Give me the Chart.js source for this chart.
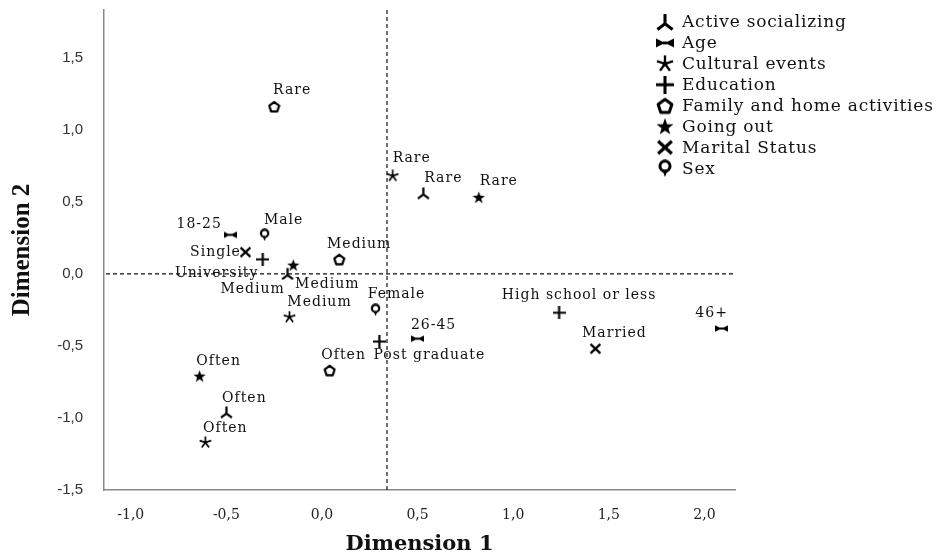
<!DOCTYPE html>
<html>
<head>
<meta charset="utf-8">
<script src="https://cdn.jsdelivr.net/npm/chart.js@4.4.1/dist/chart.umd.min.js"></script>
<style>
  html, body { margin: 0; padding: 0; background: #fff; }
  #wrap { width: 940px; height: 557px; }
</style>
</head>
<body>
<div id="wrap"><canvas id="chart" width="940" height="557"></canvas></div>
<script>
// legend order
const seriesNames = ['Active socializing', 'Age', 'Cultural events', 'Education',
  'Family and home activities', 'Going out', 'Marital Status', 'Sex'];

// category labels
const activeCats = ['Rare', 'Medium', 'Often'];
const ageCats = ['18-25', '26-45', '46+'];
const culturalCats = ['Rare', 'Medium', 'Often'];
const educationCats = ['University', 'Post graduate', 'High school or less'];
const familyCats = ['Rare', 'Medium', 'Often'];
const goingCats = ['Rare', 'Medium', 'Often'];
const maritalCats = ['Single', 'Married'];
const sexCats = ['Male', 'Female'];

// Dimension 1 / Dimension 2 values
const activeDim1 = [0.53, -0.18, -0.50];
const activeDim2 = [0.56, 0.00, -0.96];
const ageDim1 = [-0.48, 0.50, 2.09];
const ageDim2 = [0.27, -0.45, -0.38];
const culturalDim1 = [0.37, -0.17, -0.61];
const culturalDim2 = [0.68, -0.30, -1.17];
const educationDim1 = [-0.31, 0.30, 1.24];
const educationDim2 = [0.10, -0.47, -0.27];
const familyDim1 = [-0.25, 0.09, 0.04];
const familyDim2 = [1.16, 0.10, -0.67];
const goingDim1 = [0.82, -0.15, -0.64];
const goingDim2 = [0.53, 0.06, -0.71];
const maritalDim1 = [-0.40, 1.43];
const maritalDim2 = [0.15, -0.52];
const sexDim1 = [-0.30, 0.28];
const sexDim2 = [0.27, -0.25];

// tick labels
const xTicks = [-1.0, -0.5, 0.0, 0.5, 1.0, 1.5, 2.0];
const yTicks = [-1.5, -1.0, -0.5, 0.0, 0.5, 1.0, 1.5];

// dashed reference lines
const refX = 0.34;
const refY = 0.0;

// where each point label sits relative to its marker (px)
const activeShift = [[20, -15], [-35, 16], [18, -14]];
const ageShift = [[-31, -11], [16, -13], [-10, -15]];
const culturalShift = [[19, -17], [30, -15], [20, -14]];
const educationShift = [[-46, 14], [50, 14], [20, -17]];
const familyShift = [[18, -16], [20, -15], [14, -15]];
const goingShift = [[20, -16], [34, 19], [19, -15]];
const maritalShift = [[-30, 0], [19, -15]];
const sexShift = [[19, -15], [21, -15]];

function symbol(type, s) {
  const c = document.createElement('canvas');
  c.width = s; c.height = s;
  const g = c.getContext('2d');
  g.fillStyle = '#000';
  g.strokeStyle = '#000';
  g.lineCap = 'butt';
  g.lineJoin = 'miter';
  const m = s / 2;
  if (type === 'tripod') {
    g.lineWidth = s * 0.17;
    g.beginPath();
    g.moveTo(m, s * 0.05); g.lineTo(m, s * 0.6);
    g.moveTo(m, s * 0.6); g.lineTo(s * 0.08, s * 0.92);
    g.moveTo(m, s * 0.6); g.lineTo(s * 0.92, s * 0.92);
    g.stroke();
  } else if (type === 'bowtie') {
    g.beginPath();
    g.moveTo(0, s * 0.25); g.lineTo(m, m); g.lineTo(0, s * 0.75); g.closePath();
    g.moveTo(s, s * 0.25); g.lineTo(m, m); g.lineTo(s, s * 0.75); g.closePath();
    g.fill();
    g.fillRect(m - s * 0.12, m - s * 0.08, s * 0.24, s * 0.16);
  } else if (type === 'asterisk') {
    g.lineWidth = s * 0.13;
    g.beginPath();
    for (let k = 0; k < 5; k++) {
      const a = -Math.PI / 2 + k * 2 * Math.PI / 5;
      g.moveTo(m, m);
      g.lineTo(m + Math.cos(a) * s * 0.47, m + Math.sin(a) * s * 0.47);
    }
    g.stroke();
    g.beginPath(); g.arc(m, m, s * 0.14, 0, Math.PI * 2); g.fill();
  } else if (type === 'star') {
    g.beginPath();
    for (let k = 0; k < 10; k++) {
      const a = -Math.PI / 2 + k * Math.PI / 5;
      const r = k % 2 === 0 ? s * 0.5 : s * 0.2;
      const px = m + Math.cos(a) * r, py = m + 0.03 * s + Math.sin(a) * r;
      if (k === 0) g.moveTo(px, py); else g.lineTo(px, py);
    }
    g.closePath(); g.fill();
  } else if (type === 'plus') {
    g.lineWidth = s * 0.17;
    g.beginPath();
    g.moveTo(0, m); g.lineTo(s, m);
    g.moveTo(m, 0); g.lineTo(m, s);
    g.stroke();
  } else if (type === 'pentagon') {
    g.lineWidth = s * 0.17;
    g.lineJoin = 'round';
    g.beginPath();
    for (let k = 0; k < 5; k++) {
      const a = -Math.PI / 2 + k * 2 * Math.PI / 5;
      const px = m + Math.cos(a) * s * 0.4, py = m + 0.05 * s + Math.sin(a) * s * 0.4;
      if (k === 0) g.moveTo(px, py); else g.lineTo(px, py);
    }
    g.closePath(); g.stroke();
  } else if (type === 'cross') {
    g.lineWidth = s * 0.18;
    g.beginPath();
    g.moveTo(s * 0.12, s * 0.15); g.lineTo(s * 0.88, s * 0.85);
    g.moveTo(s * 0.88, s * 0.15); g.lineTo(s * 0.12, s * 0.85);
    g.stroke();
  } else if (type === 'pin') {
    g.lineWidth = s * 0.17;
    g.beginPath(); g.arc(m, s * 0.38, s * 0.28, 0, Math.PI * 2); g.stroke();
    g.beginPath();
    g.moveTo(m - s * 0.14, s * 0.62); g.lineTo(m + s * 0.14, s * 0.62); g.lineTo(m, s * 0.98);
    g.closePath(); g.fill();
  }
  return c;
}

const symbolTypes = ['tripod', 'bowtie', 'asterisk', 'plus', 'pentagon', 'star', 'cross', 'pin'];
const plotSymbols = symbolTypes.map(t => symbol(t, 13));
const legendSymbols = symbolTypes.map(t => symbol(t, 18));

function pts(xs, ys) { return xs.map((x, i) => ({ x: x, y: ys[i] })); }

const groups = [
  { cats: activeCats, d1: activeDim1, d2: activeDim2, shift: activeShift },
  { cats: ageCats, d1: ageDim1, d2: ageDim2, shift: ageShift },
  { cats: culturalCats, d1: culturalDim1, d2: culturalDim2, shift: culturalShift },
  { cats: educationCats, d1: educationDim1, d2: educationDim2, shift: educationShift },
  { cats: familyCats, d1: familyDim1, d2: familyDim2, shift: familyShift },
  { cats: goingCats, d1: goingDim1, d2: goingDim2, shift: goingShift },
  { cats: maritalCats, d1: maritalDim1, d2: maritalDim2, shift: maritalShift },
  { cats: sexCats, d1: sexDim1, d2: sexDim2, shift: sexShift }
];

const fmt = v => v.toFixed(1).replace('.', ',');

// dashed lines through the reference point
const refLines = {
  id: 'refLines',
  beforeDatasetsDraw(chart) {
    const { ctx, chartArea: a, scales: { x, y } } = chart;
    const px = x.getPixelForValue(refX);
    const py = y.getPixelForValue(refY);
    ctx.save();
    ctx.strokeStyle = '#111';
    ctx.lineWidth = 1.2;
    ctx.setLineDash([4, 3]);
    ctx.beginPath();
    ctx.moveTo(a.left + 2, py); ctx.lineTo(a.right, py);
    ctx.moveTo(px, a.top); ctx.lineTo(px, a.bottom);
    ctx.stroke();
    ctx.restore();
  }
};

// category names beside markers
const pointLabels = {
  id: 'pointLabels',
  afterDatasetsDraw(chart) {
    const ctx = chart.ctx;
    ctx.save();
    ctx.font = '14px "DejaVu Serif"';
    ctx.letterSpacing = '1px';
    ctx.fillStyle = '#111';
    ctx.textAlign = 'center';
    ctx.textBaseline = 'middle';
    chart.data.datasets.forEach((ds, i) => {
      const grp = groups[i];
      chart.getDatasetMeta(i).data.forEach((el, j) => {
        const s = grp.shift[j];
        ctx.fillText(grp.cats[j], el.x + s[0], el.y + s[1]);
      });
    });
    ctx.restore();
  }
};

// legend in the top right corner
const sideLegend = {
  id: 'sideLegend',
  afterDraw(chart) {
    const ctx = chart.ctx;
    ctx.save();
    ctx.font = '17px "DejaVu Serif"';
    ctx.letterSpacing = '0.8px';
    ctx.fillStyle = '#111';
    ctx.textAlign = 'left';
    ctx.textBaseline = 'middle';
    seriesNames.forEach((name, i) => {
      const cy = 22 + i * 20.9;
      const img = legendSymbols[i];
      ctx.drawImage(img, 665 - img.width / 2, cy - img.height / 2);
      ctx.fillText(name, 682, cy + 1);
    });
    ctx.restore();
  }
};

new Chart(document.getElementById('chart').getContext('2d'), {
  type: 'scatter',
  data: {
    datasets: groups.map((grp, i) => ({
      label: seriesNames[i],
      data: pts(grp.d1, grp.d2),
      pointStyle: plotSymbols[i],
      pointRadius: 6,
      pointHoverRadius: 6
    }))
  },
  options: {
    responsive: false,
    animation: false,
    layout: { padding: { top: 10, right: 205, left: 0, bottom: 0 } },
    plugins: { legend: { display: false }, tooltip: { enabled: false } },
    scales: {
      x: {
        type: 'linear',
        min: -1.14,
        max: 2.16,
        afterFit(scale) {
          scale.height = 67;
          scale.paddingLeft = 0; scale.paddingRight = 0;
          scale.paddingTop = 0; scale.paddingBottom = 0;
        },
        afterBuildTicks(scale) { scale.ticks = xTicks.map(v => ({ value: v })); },
        grid: { display: false, drawTicks: false },
        border: { display: true, color: '#8a8a8a', width: 1.5 },
        ticks: {
          padding: 17,
          color: '#222',
          font: { family: 'DejaVu Serif', size: 14 },
          callback: v => fmt(v)
        },
        title: {
          display: true,
          text: 'Dimension 1',
          color: '#111',
          font: { family: 'DejaVu Serif', size: 21, weight: 'bold' },
          padding: { top: 0, bottom: 0 }
        }
      },
      y: {
        type: 'linear',
        min: -1.5,
        max: 1.83,
        afterFit(scale) {
          scale.width = 104;
          scale.paddingLeft = 0; scale.paddingRight = 0;
          scale.paddingTop = 0; scale.paddingBottom = 0;
        },
        afterBuildTicks(scale) { scale.ticks = yTicks.map(v => ({ value: v })); },
        grid: { display: false, drawTicks: false },
        border: { display: true, color: '#8a8a8a', width: 1.5 },
        ticks: {
          padding: 21,
          color: '#333',
          font: { family: 'Liberation Sans', size: 15 },
          callback: v => fmt(v)
        },
        title: {
          display: true,
          text: 'Dimension 2',
          color: '#111',
          font: { family: 'Liberation Serif', size: 25, weight: 'bold' },
          padding: { top: 8, bottom: 0 }
        }
      }
    }
  },
  plugins: [refLines, pointLabels, sideLegend]
});
</script>
</body>
</html>
